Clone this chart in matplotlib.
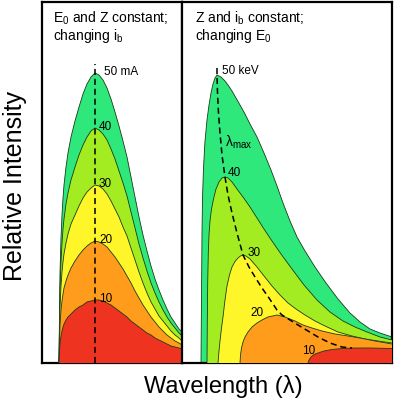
import matplotlib
matplotlib.use("Agg")
import matplotlib.pyplot as plt

plt.rcParams['font.family'] = ['Liberation Sans', 'DejaVu Sans']
plt.rcParams['mathtext.fontset'] = 'custom'
plt.rcParams['mathtext.rm'] = 'Liberation Sans'
plt.rcParams['mathtext.it'] = 'Liberation Sans:italic'
plt.rcParams['mathtext.default'] = 'regular'

# ---------------- data (arbitrary wavelength / intensity units) ----------------
# Left panel: E0 and Z constant, tube current changes
left_wavelength = [17, 17.5, 18, 19, 20, 21, 22, 24, 26, 29, 33, 37, 41, 45, 49, 53, 57, 61, 65,
                   69, 73, 77, 81, 85, 89, 93, 97, 101, 105, 109, 113, 117, 121, 125, 129, 133, 137, 140]
left_50mA = [0, 50, 90, 125, 148, 165, 178, 196, 210, 226, 242, 256, 269, 279, 286, 290, 288, 283, 275,
             264, 251, 237, 222, 206, 186, 166, 146, 128, 112, 97, 84, 73, 63, 54, 46, 40, 34, 31]
left_40mA = [0, 40, 73, 101, 120, 134, 144, 159, 170, 183, 196, 208, 218, 226, 232, 235, 233, 229, 223,
             214, 204, 192, 180, 167, 151, 135, 119, 105, 92, 80, 70, 61, 53, 46, 40, 35, 30, 27]
left_30mA = [0, 31, 55, 77, 91, 101, 109, 120, 129, 139, 148, 157, 165, 171, 175, 178, 177, 174, 169,
             162, 154, 146, 136, 127, 115, 103, 91, 80, 70, 61, 54, 47, 42, 37, 32, 28, 25, 22]
left_20mA = [0, 21, 38, 53, 62, 69, 75, 82, 88, 95, 102, 108, 113, 117, 120, 122, 121, 119, 116,
             111, 106, 100, 94, 87, 80, 72, 65, 58, 52, 46, 41, 36, 32, 28, 25, 22, 20, 18]
left_10mA = [0, 11, 20, 27, 32, 36, 39, 43, 46, 49, 53, 56, 58, 61, 62, 63, 63, 62, 60,
             58, 55, 52, 49, 46, 42, 39, 36, 33, 30, 28, 25, 23, 21, 19, 17, 16, 15, 14]
left_labels = ["50 mA", "40", "30", "20", "10"]
left_lambda_max = 53

# Right panel: Z and ib constant, accelerating voltage changes
r50_x = [19, 19.3, 19.7, 20, 20.5, 21.5, 23, 25, 27, 29, 31, 33, 35, 39, 43, 46, 50, 54, 58, 63, 68,
         75, 82, 89, 95, 101, 108, 115, 123, 133, 144, 156, 168, 178, 188, 198, 210]
r50_y = [0, 40, 90, 130, 165, 195, 222, 243, 258, 270, 279, 285, 288, 286, 282, 278, 272, 265, 258, 249, 239,
         226, 210, 193, 177, 160, 142, 126, 112, 96, 80, 64, 50, 41, 34, 30, 26]
r40_x = [25, 25.3, 25.7, 26.3, 27, 28, 29.5, 31.5, 34, 37, 40, 43, 46, 50, 55, 61, 68, 75, 82, 90,
         99, 110, 122, 135, 148, 161, 173, 185, 198, 210]
r40_y = [0, 40, 80, 110, 128, 142, 154, 164, 174, 181, 185, 186, 185, 181, 174, 166, 156, 145, 134, 122,
         109, 94, 78, 63, 51, 42, 36, 31, 26, 23]
r30_x = [36, 37, 38, 39.5, 41, 43, 45, 47.5, 50, 53, 56, 58.5, 61, 64, 68, 75, 82, 90, 98, 106,
         114, 123, 133, 143, 156, 170, 183, 196, 210]
r30_y = [0, 12, 22, 35, 46, 63, 77, 88, 96, 101.5, 105, 107, 108, 107, 104, 96, 87, 77, 68, 60,
         54, 48, 42, 37, 31, 27, 24, 22, 20]
r20_x = [58, 58.5, 59.5, 61, 63, 66, 70, 75, 80, 86, 95, 103, 113, 121, 130, 140, 153, 166, 178, 193, 210]
r20_y = [0, 8, 15, 21, 26, 31, 36, 40, 43, 46, 48, 46, 42, 38, 35, 32, 29, 27, 25, 22, 19]
r10_x = [126, 127, 129, 132, 136, 142, 150, 160, 173, 188, 210]
r10_y = [0, 3, 6, 8.5, 10, 12, 13.5, 14.5, 15, 15, 14.5]
right_labels = ["50 keV", "40", "30", "20", "10"]
lmax_x = [35, 35, 35.5, 36.5, 38, 40, 43, 46, 50, 55, 61, 67, 73, 80, 87, 95, 100, 108, 116, 126, 136, 148, 160, 170]
lmax_y = [295, 288, 270, 250, 230, 208, 186, 168, 150, 130, 108, 96, 86, 75, 65, 53, 48, 43, 38, 32, 26, 20, 16, 15]

colors = ['#2ee87c', '#a4ec22', '#fff62a', '#ff9c1c', '#ee3420']

# ---------------- figure ----------------
W, H = 394, 400
fig = plt.figure(figsize=(W / 100, H / 100), dpi=100)
bottom = 37 / H
height = 361 / H
axL = fig.add_axes([42 / W, bottom, 140 / W, height])
axR = fig.add_axes([182 / W, bottom, 210 / W, height])

for ax, xmax in ((axL, 140), (axR, 210)):
    ax.set_xlim(0, xmax)
    ax.set_ylim(0, 361)
    ax.set_xticks([])
    ax.set_yticks([])
    for s in ax.spines.values():
        s.set_linewidth(1.6)
        s.set_color('black')

# left panel curves
left_series = [left_50mA, left_40mA, left_30mA, left_20mA, left_10mA]
for i, (ys, c) in enumerate(zip(left_series, colors)):
    axL.fill_between(left_wavelength, ys, 0, facecolor=c, edgecolor='none', zorder=2 + i)
    axL.plot(left_wavelength, ys, color='#1a3a1a', lw=0.6, zorder=2.5 + i)

axL.plot([left_lambda_max, left_lambda_max], [0, 299], ls=(0, (4, 2.5)), color='black', lw=1.1, zorder=20)
for lab, ys in zip(left_labels, left_series):
    pk = max(ys)
    dx = 9 if lab.endswith('mA') else 4
    axL.text(left_lambda_max + dx, pk + 1, lab, fontsize=8.5, ha='left', va='center', zorder=21)

# right panel curves
right_series = [(r50_x, r50_y), (r40_x, r40_y), (r30_x, r30_y), (r20_x, r20_y), (r10_x, r10_y)]
for i, ((xs, ys), c) in enumerate(zip(right_series, colors)):
    axR.fill_between(xs, ys, 0, facecolor=c, edgecolor='none', zorder=2 + i)
    axR.plot(xs, ys, color='#1a3a1a', lw=0.6, zorder=2.5 + i)

axR.plot(lmax_x, lmax_y, ls=(0, (4, 2.5)), color='black', lw=1.1, zorder=20)

r_label_pos = [(40, 292), (46, 190), (66, 110), (68, 50), (120, 12)]
for lab, (tx, ty) in zip(right_labels, r_label_pos):
    axR.text(tx, ty, lab, fontsize=8.5, ha='left', va='center', zorder=21)
axR.text(43, 221, r'$\lambda_{max}$', fontsize=10, ha='left', va='center', zorder=21)

# panel titles
axL.text(11 / 140, (363 - 18) / 361, r'E$_0$ and Z constant;', transform=axL.transAxes,
         fontsize=10, ha='left', va='center')
axL.text(11 / 140, (363 - 36) / 361, r'changing i$_b$', transform=axL.transAxes,
         fontsize=10, ha='left', va='center')
axR.text(13 / 210, (363 - 18) / 361, r'Z and i$_b$ constant;', transform=axR.transAxes,
         fontsize=10, ha='left', va='center')
axR.text(13 / 210, (363 - 36) / 361, r'changing E$_0$', transform=axR.transAxes,
         fontsize=10, ha='left', va='center')

# axis labels
fig.text(15 / W, 1 - 186 / H, 'Relative Intensity', rotation=90, fontsize=18,
         ha='center', va='center')
fig.text(223 / W, 1 - 386 / H, 'Wavelength (λ)', fontsize=17, ha='center', va='center')

fig.savefig('out.png', dpi=100)
